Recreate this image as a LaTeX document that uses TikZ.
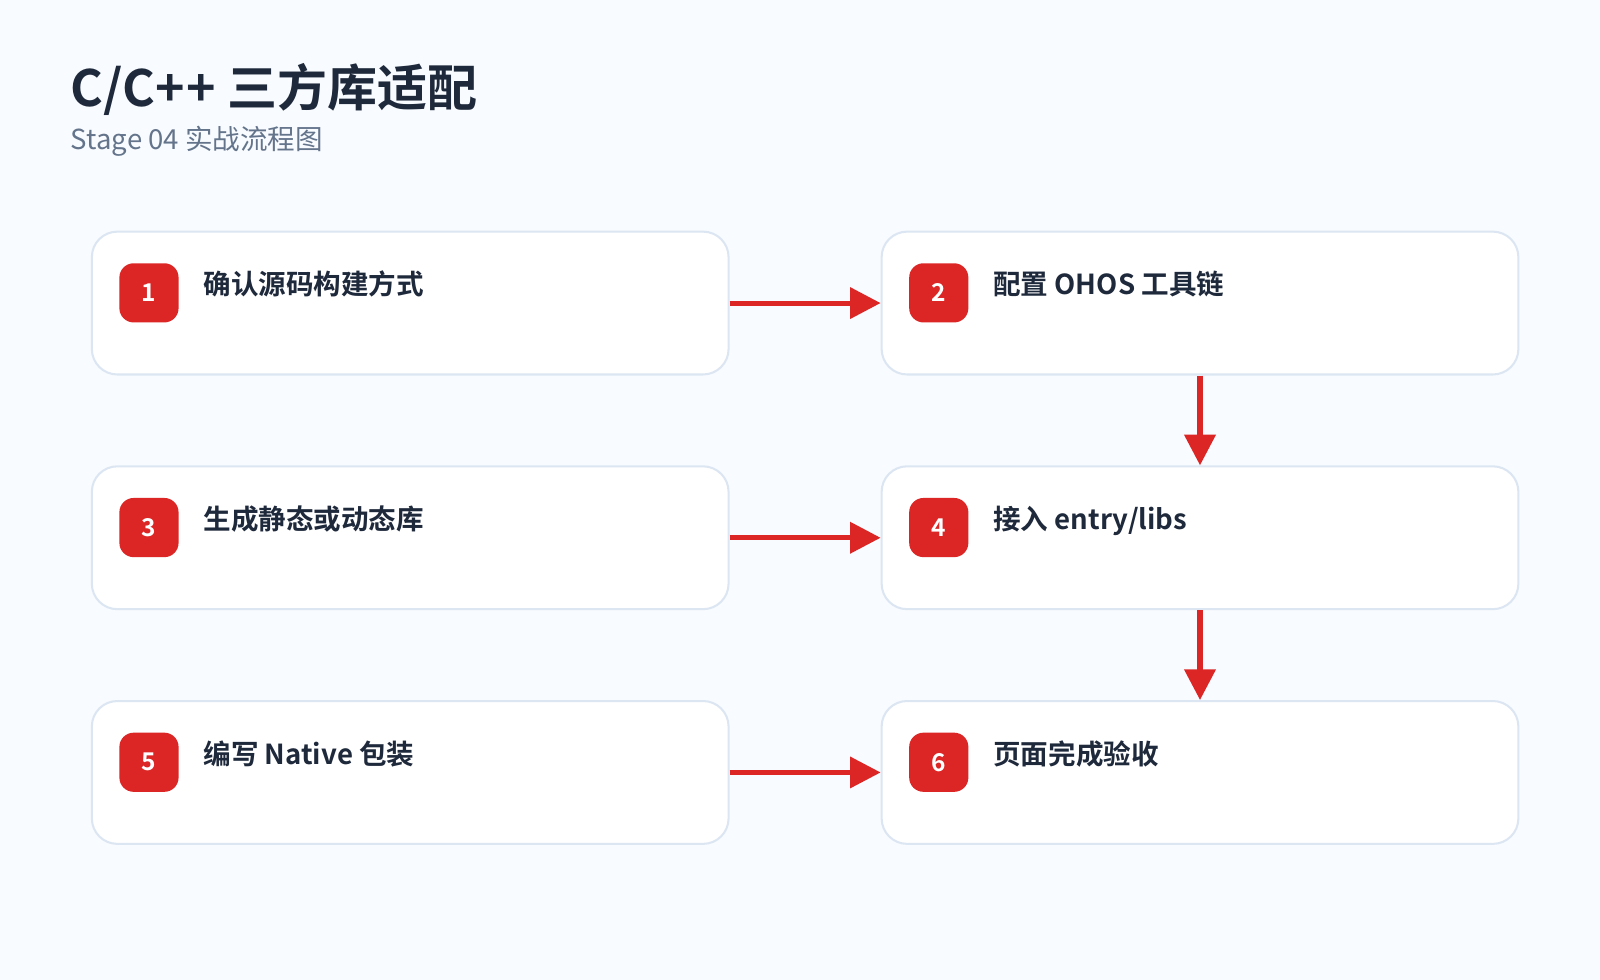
\documentclass[tikz,border=0pt]{standalone}
\usepackage{fontspec}
\setmainfont{Noto Sans CJK SC}[BoldFont={Noto Sans CJK SC Bold}]
\usetikzlibrary{arrows.meta}
\definecolor{bgcol}{HTML}{F8FBFF}
\definecolor{edgecol}{HTML}{DCE6F2}
\definecolor{stepred}{HTML}{DC2626}
\definecolor{inkcol}{HTML}{1E293B}
\definecolor{subcol}{HTML}{64748B}
\tikzset{
  stepbox/.style={draw=edgecol, line width=2pt, fill=white, rounded corners=25pt,
    minimum width=624pt, minimum height=140pt},
  badge/.style={fill=stepred, rounded corners=14pt, minimum size=58pt,
    text=white, font=\bfseries\fontsize{24}{24}\selectfont},
  steptext/.style={anchor=base west, text=inkcol, font=\bfseries\fontsize{27}{27}\selectfont},
  flow/.style={draw=stepred, line width=5pt, -{Triangle[length=30pt,width=30pt]}}
}
\begin{document}
\begin{tikzpicture}[x=1pt,y=-1pt]
  \fill[bgcol] (0,0) rectangle (1568,960);
  \node[anchor=base west, text=inkcol, font=\bfseries\fontsize{49}{49}\selectfont] (title) at (66,104) {C/C+\kern2pt+ 三方库适配};
  \node[anchor=base west, text=subcol, font=\fontsize{27}{27}\selectfont] (subtitle) at (66,147) {Stage 04 实战流程图};

  % step boxes
  \node[stepbox] (s1) at (402,297) {};
  \node[stepbox] (s2) at (1176,297) {};
  \node[stepbox] (s3) at (402,527) {};
  \node[stepbox] (s4) at (1176,527) {};
  \node[stepbox] (s5) at (402,757) {};
  \node[stepbox] (s6) at (1176,757) {};

  \foreach \n/\x/\y/\lab in {1/146/287/{确认源码构建方式}, 2/920/287/{配置 OHOS 工具链},
      3/146/517/{生成静态或动态库}, 4/920/517/{接入 entry/libs},
      5/146/747/{编写 Native 包装}, 6/920/747/{页面完成验收}}{
    \node[badge] (b\n) at (\x,\y) {\n};
    \node[steptext] (t\n) at (\x+50,\y+2) {\lab};
  }

  % connectors
  \draw[flow] (s1.east) -- (s2.west);
  \draw[flow] (s3.east) -- (s4.west);
  \draw[flow] (s5.east) -- (s6.west);
  \draw[flow] (s2.south) -- (s4.north);
  \draw[flow] (s4.south) -- (s6.north);
\end{tikzpicture}
\end{document}
